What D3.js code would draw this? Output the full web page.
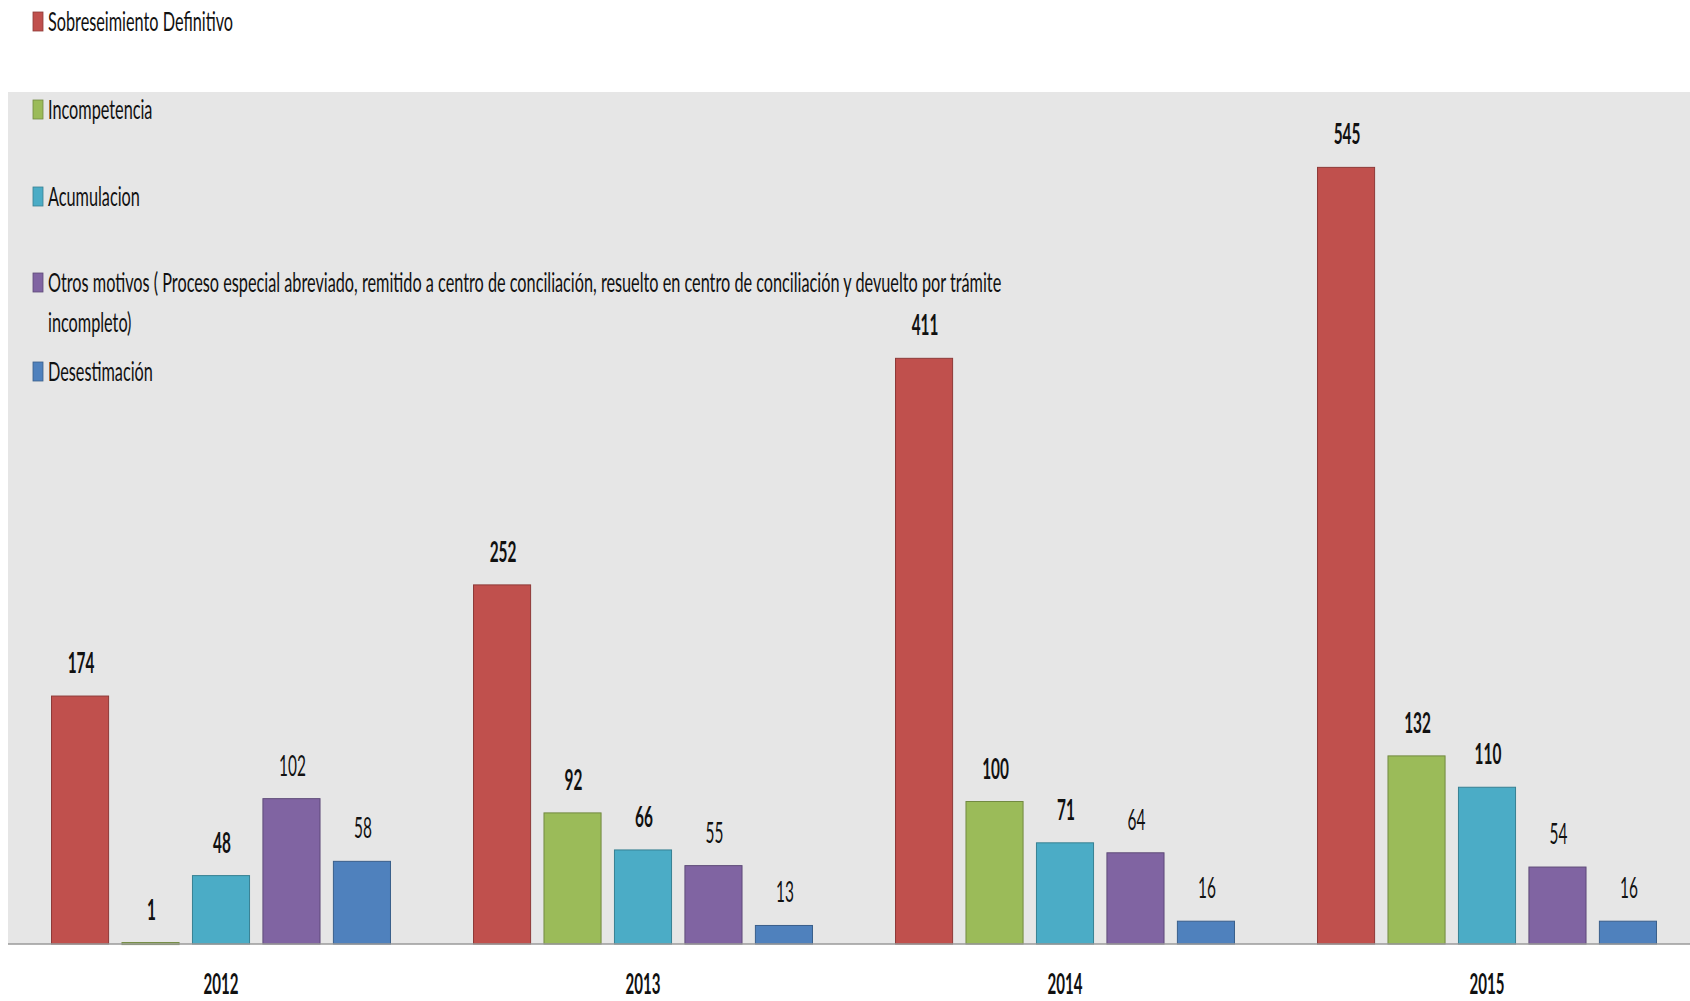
<!DOCTYPE html>
<html>
<head>
<meta charset="utf-8">
<script src="https://cdn.jsdelivr.net/npm/d3@7"></script>
<style>
  html, body { margin: 0; padding: 0; background: #ffffff; }
  svg { display: block; }
</style>
</head>
<body>
<svg id="chart" width="1690" height="1001"></svg>
<script>
// ---- data ----
const years = ["2012", "2013", "2014", "2015"];
const seriesNames = [
  "Sobreseimiento Definitivo",
  "Incompetencia",
  "Acumulacion",
  "Otros motivos ( Proceso especial abreviado, remitido a centro de conciliación, resuelto en centro de conciliación y devuelto por trámite incompleto)",
  "Desestimación"
];
const sobreseimiento = [174, 252, 411, 545];
const incompetencia  = [1, 92, 100, 132];
const acumulacion    = [48, 66, 71, 110];
const otrosMotivos   = [102, 55, 64, 54];
const desestimacion  = [58, 13, 16, 16];
const seriesValues = [sobreseimiento, incompetencia, acumulacion, otrosMotivos, desestimacion];
const colors  = ["#c0504d", "#9bbb59", "#4bacc6", "#8064a2", "#4f81bd"];
const strokes = ["#8e3a38", "#728a41", "#378092", "#5e4a78", "#3a5f8b"];
const labelWeights = ["bold", "bold", "bold", "normal", "normal"];

// ---- layout ----
const plotLeft = 8, plotRight = 1690, plotTop = 92, baseY = 944;
const svg = d3.select("#chart");
const FONT = "Lato, 'Open Sans', sans-serif";

function stext(g, x, y, txt, size, sx, anchor, weight, fill) {
  return g.append("text")
    .attr("transform", `translate(${x},${y}) scale(${sx},1)`)
    .attr("text-anchor", anchor)
    .attr("font-family", FONT)
    .attr("font-size", size)
    .attr("font-weight", weight)
    .attr("fill", fill || "#111")
    .text(txt);
}

// background plot area
svg.append("rect")
  .attr("x", plotLeft).attr("y", plotTop)
  .attr("width", plotRight - plotLeft).attr("height", baseY - plotTop)
  .attr("fill", "#e6e6e6");

// scales
const x0 = d3.scaleBand().domain(years).range([10, 1698]).paddingInner(0.165).paddingOuter(0.0825);
const x1 = d3.scaleBand().domain(d3.range(seriesNames.length)).range([0, x0.bandwidth()])
  .paddingInner(0.19).paddingOuter(0.095);
const y = d3.scaleLinear().domain([0, 600]).range([baseY, baseY - 600 * 1.425]);

// bars
const flat = [];
years.forEach((yr, i) => {
  seriesValues.forEach((vals, s) => flat.push({ year: yr, s, v: vals[i] }));
});

const gBars = svg.append("g");
gBars.selectAll("rect.bar").data(flat).join("rect")
  .attr("class", "bar")
  .attr("x", d => x0(d.year) + x1(d.s))
  .attr("y", d => y(d.v))
  .attr("width", x1.bandwidth())
  .attr("height", d => Math.max(2, y(0) - y(d.v)))
  .attr("fill", d => colors[d.s])
  .attr("stroke", d => strokes[d.s])
  .attr("stroke-width", 1);

// value labels
flat.forEach(d => {
  const cx = x0(d.year) + x1(d.s) + x1.bandwidth() / 2 + 1;
  stext(gBars, cx, y(d.v) - 23, String(d.v), 28, 0.55, "middle", labelWeights[d.s], "#111");
});

// axis line
const xAxis = d3.axisBottom(x0).tickSize(0).tickPadding(0);
const gAxis = svg.append("g").attr("transform", `translate(0,${baseY})`).call(xAxis);
gAxis.select(".domain").attr("stroke", "#9a9a9a").attr("stroke-width", 1.5)
  .attr("d", `M${plotLeft},0H${plotRight}`);
gAxis.selectAll(".tick text").remove();
years.forEach(yr => {
  stext(svg, x0(yr) + x0.bandwidth() / 2, 994, yr, 29, 0.52, "middle", "bold", "#111");
});

// legend
const legendRows = [
  { s: 0, lines: ["Sobreseimiento Definitivo"], base: 31 },
  { s: 1, lines: ["Incompetencia"], base: 119 },
  { s: 2, lines: ["Acumulacion"], base: 206 },
  { s: 3, lines: ["Otros motivos ( Proceso especial abreviado, remitido a centro de conciliación, resuelto en centro de conciliación y devuelto por trámite", "incompleto)"], base: 292 },
  { s: 4, lines: ["Desestimación"], base: 381 }
];
const gLeg = svg.append("g");
legendRows.forEach(r => {
  gLeg.append("rect")
    .attr("x", 33).attr("y", r.base - 19)
    .attr("width", 10).attr("height", 19)
    .attr("fill", colors[r.s]).attr("stroke", strokes[r.s]).attr("stroke-width", 0.8);
  r.lines.forEach((ln, k) => {
    stext(gLeg, 48, r.base + k * 40, ln, 26, 0.625, "start", "normal", "#111");
  });
});
</script>
</body>
</html>
